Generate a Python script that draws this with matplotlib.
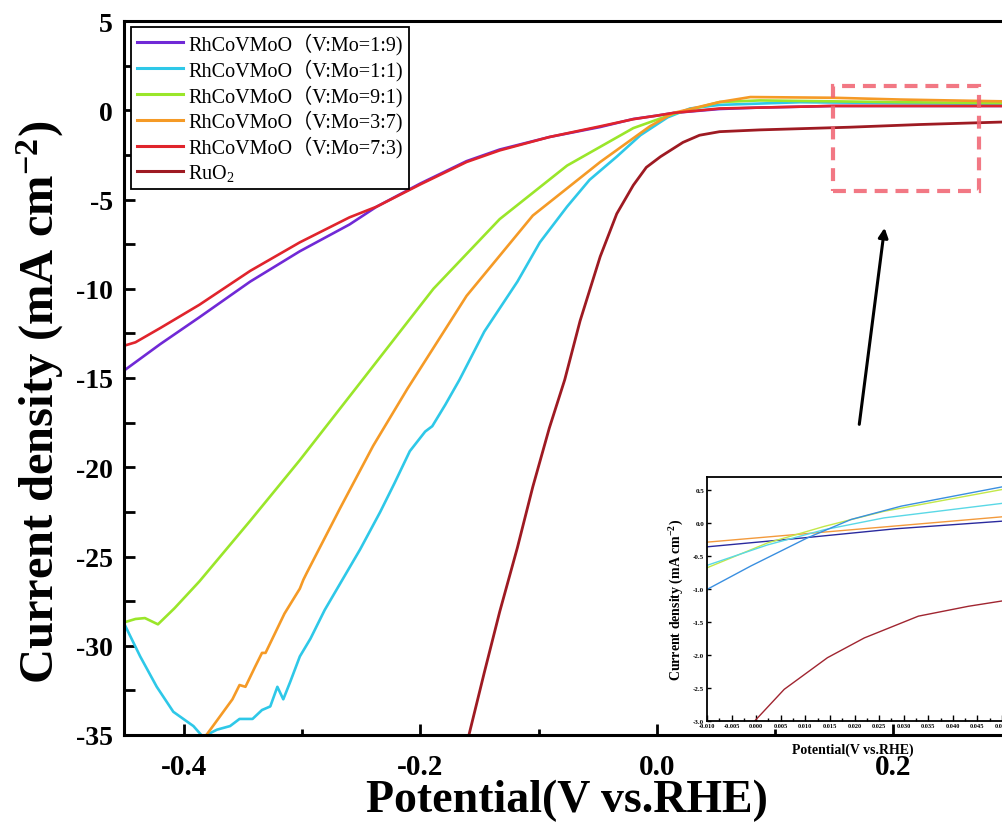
import matplotlib
matplotlib.use("Agg")
import matplotlib.pyplot as plt
from matplotlib.font_manager import FontProperties
from matplotlib.patches import Rectangle
from matplotlib.ticker import MultipleLocator, FixedLocator, FormatStrFormatter

plt.rcParams['font.family'] = ['Liberation Serif', 'Noto Sans CJK SC', 'DejaVu Sans']
plt.rcParams['mathtext.fontset'] = 'custom'
plt.rcParams['mathtext.rm'] = 'Liberation Serif'
plt.rcParams['mathtext.it'] = 'Liberation Serif:italic'
plt.rcParams['mathtext.bf'] = 'Liberation Serif:bold'
plt.rcParams['axes.unicode_minus'] = False

# ---------------- main data ----------------
labels = ["RhCoVMoO\uff08V:Mo=1:9)", "RhCoVMoO\uff08V:Mo=1:1)", "RhCoVMoO\uff08V:Mo=9:1)",
          "RhCoVMoO\uff08V:Mo=3:7)", "RhCoVMoO\uff08V:Mo=7:3)", "RuO$_2$"]
colors = ['#7029D6', '#2EC8E8', '#9AE62A', '#F59A26', '#E0242C', '#9E1A22']

x_19 = [-0.451, -0.420, -0.387, -0.344, -0.302, -0.260, -0.237, -0.200, -0.161, -0.133,
        -0.091, -0.048, -0.020, 0.000, 0.014, 0.053, 0.087, 0.149, 0.292]
y_19 = [-14.6, -13.1, -11.6, -9.6, -7.9, -6.4, -5.4, -4.1, -2.85, -2.2,
        -1.5, -0.94, -0.49, -0.3, -0.15, 0.07, 0.15, 0.24, 0.24]

x_11 = [-0.451, -0.437, -0.423, -0.409, -0.392, -0.384, -0.372, -0.361, -0.353, -0.342,
        -0.334, -0.327, -0.321, -0.316, -0.310, -0.302, -0.293, -0.281, -0.266, -0.251,
        -0.234, -0.222, -0.209, -0.196, -0.190, -0.179, -0.167, -0.146, -0.118, -0.099,
        -0.076, -0.057, -0.034, -0.014, 0.009, 0.028, 0.053, 0.121, 0.206, 0.292]
y_11 = [-28.7, -30.6, -32.3, -33.7, -34.5, -35.1, -34.7, -34.5, -34.1, -34.1,
        -33.6, -33.4, -32.3, -33.0, -32.0, -30.6, -29.6, -28.0, -26.3, -24.6,
        -22.5, -20.9, -19.1, -18.0, -17.7, -16.5, -15.1, -12.4, -9.6, -7.4,
        -5.4, -3.9, -2.6, -1.4, -0.4, 0.1, 0.3, 0.45, 0.4, 0.35]

x_91 = [-0.451, -0.441, -0.433, -0.422, -0.408, -0.387, -0.344, -0.302, -0.249, -0.189,
        -0.133, -0.076, -0.020, 0.014, 0.053, 0.087, 0.149, 0.206, 0.292]
y_91 = [-28.7, -28.5, -28.45, -28.8, -27.9, -26.4, -23.0, -19.6, -15.1, -10.0,
        -6.1, -3.1, -1.0, -0.2, 0.46, 0.55, 0.5, 0.45, 0.4]

x_37 = [-0.381, -0.359, -0.353, -0.348, -0.340, -0.334, -0.331, -0.323, -0.315, -0.302,
        -0.299, -0.296, -0.268, -0.240, -0.211, -0.161, -0.105, -0.048, -0.006, 0.014,
        0.053, 0.079, 0.149, 0.206, 0.248, 0.292]
y_37 = [-35.0, -33.0, -32.2, -32.3, -31.2, -30.4, -30.4, -29.3, -28.2, -26.8,
        -26.3, -25.9, -22.3, -18.8, -15.6, -10.4, -5.9, -2.9, -0.9, -0.15,
        0.46, 0.74, 0.7, 0.6, 0.55, 0.5]

x_73 = [-0.451, -0.441, -0.420, -0.387, -0.344, -0.302, -0.260, -0.237, -0.200, -0.161,
        -0.133, -0.091, -0.048, -0.020, 0.000, 0.014, 0.053, 0.149, 0.292]
y_73 = [-13.2, -13.0, -12.2, -10.9, -9.0, -7.4, -6.0, -5.4, -4.15, -2.9,
        -2.25, -1.5, -0.9, -0.5, -0.3, -0.15, 0.1, 0.24, 0.24]

x_ru = [-0.159, -0.146, -0.133, -0.118, -0.105, -0.091, -0.078, -0.065, -0.048, -0.034,
        -0.020, -0.009, 0.003, 0.022, 0.036, 0.053, 0.087, 0.163, 0.222, 0.292]
y_ru = [-35.0, -31.5, -28.1, -24.5, -21.1, -17.8, -15.1, -11.8, -8.2, -5.8,
        -4.2, -3.2, -2.6, -1.8, -1.4, -1.2, -1.1, -0.95, -0.8, -0.66]

xs = [x_19, x_11, x_91, x_37, x_73, x_ru]
ys = [y_19, y_11, y_91, y_37, y_73, y_ru]

x_ticks = [-0.4, -0.2, 0.0, 0.2]
x_ticklabels = ["-0.4", "-0.2", "0.0", "0.2"]
y_ticks = [5, 0, -5, -10, -15, -20, -25, -30, -35]

# ---------------- inset data ----------------
in_colors = ['#F39A3C', '#2A2A9E', '#C2E84A', '#5AD8E6', '#3A8FE0', '#A02530']
in_x_or = [-0.010, 0.020, 0.050]
in_y_or = [-0.288, -0.096, 0.096]
in_x_nv = [-0.010, 0.0098, 0.0282, 0.050]
in_y_nv = [-0.359, -0.222, -0.086, 0.030]
in_x_yg = [-0.010, 0.0023, 0.0138, 0.026, 0.050]
in_y_yg = [-0.677, -0.30, -0.05, 0.18, 0.51]
in_x_cy = [-0.010, 0.0023, 0.0138, 0.026, 0.050]
in_y_cy = [-0.64, -0.33, -0.10, 0.08, 0.30]
in_x_bl = [-0.010, -0.0011, 0.0105, 0.0193, 0.0295, 0.050]
in_y_bl = [-1.005, -0.65, -0.22, 0.056, 0.258, 0.55]
in_x_ru = [-0.0003, 0.0057, 0.0145, 0.022, 0.033, 0.0432, 0.050]
in_y_ru = [-3.0, -2.52, -2.04, -1.74, -1.41, -1.26, -1.18]
in_xs = [in_x_or, in_x_nv, in_x_yg, in_x_cy, in_x_bl, in_x_ru]
in_ys = [in_y_or, in_y_nv, in_y_yg, in_y_cy, in_y_bl, in_y_ru]

# ---------------- figure ----------------
W, H = 1002, 837
fig = plt.figure(figsize=(W / 100, H / 100), dpi=100)
L, R, T, B = 124, 1002, 22, 736
ax = fig.add_axes([L / W, 1 - B / H, (R - L) / W, (B - T) / H])

for x, y, c, lab in zip(xs, ys, colors, labels):
    ax.plot(x, y, color=c, lw=1.9 if lab != "RuO$_2$" else 2.0, label=lab,
            solid_joinstyle='round')

ax.set_xlim(-0.4507, 0.2918)
ax.set_ylim(-35, 5)
ax.xaxis.set_major_locator(FixedLocator(x_ticks))
ax.set_xticklabels(x_ticklabels)
ax.xaxis.set_minor_locator(MultipleLocator(0.1))
ax.yaxis.set_major_locator(FixedLocator(y_ticks))
ax.yaxis.set_minor_locator(MultipleLocator(2.5))

for s in ['left', 'bottom', 'top']:
    ax.spines[s].set_linewidth(2.2)
ax.spines['right'].set_visible(False)
ax.tick_params(axis='both', which='both', direction='in', width=2, top=False, right=False)
ax.tick_params(axis='x', which='major', length=8, pad=13, labelsize=21)
ax.tick_params(axis='x', which='minor', length=4)
ax.tick_params(axis='y', which='major', length=8, pad=8, labelsize=20)
ax.tick_params(axis='y', which='minor', length=8)
for t in ax.get_xticklabels() + ax.get_yticklabels():
    t.set_fontweight('bold')

fig.text(40 / W, 1 - 402 / H, "Current density (mA cm$^{\\mathbf{-2}}$)", rotation=90,
         ha='center', va='center', fontsize=35, fontweight='bold')
fig.text(567 / W, 1 - 801 / H, "Potential(V vs.RHE)", ha='center', va='center',
         fontsize=33, fontweight='bold')

leg_prop = FontProperties(family=['Liberation Serif', 'Noto Sans CJK SC'], size=14.5)
leg = ax.legend(loc='upper left', bbox_to_anchor=(0.008, 0.992), borderaxespad=0,
                prop=leg_prop, frameon=True, fancybox=False, framealpha=1,
                edgecolor='black', handlelength=2.3, handletextpad=0.25,
                labelspacing=0.2, borderpad=0.3)
leg.get_frame().set_linewidth(1.3)
for ln in leg.get_lines():
    ln.set_linewidth(2.2)

# dashed highlight box and arrow
ax.add_patch(Rectangle((0.1488, -4.52), 0.1235, 5.88, fill=False, edgecolor='#F0606E',
                       alpha=0.85, lw=3, linestyle=(0, (3.1, 1.9)), zorder=5))
ax.annotate('', xy=(0.1928, -6.43), xytext=(0.1708, -17.75),
            arrowprops=dict(arrowstyle='-|>', color='black', lw=2.2, mutation_scale=14))

# ---------------- inset ----------------
iL, iR, iT, iB = 707, 1002, 478, 722
ins = fig.add_axes([iL / W, 1 - iB / H, (iR - iL) / W, (iB - iT) / H])
for x, y, c in zip(in_xs, in_ys, in_colors):
    ins.plot(x, y, color=c, lw=1.0)
ins.set_xlim(-0.010, 0.050)
ins.set_ylim(-3.0, 0.7)
ins.xaxis.set_major_locator(MultipleLocator(0.005))
ins.xaxis.set_major_formatter(FormatStrFormatter('%.3f'))
ins.xaxis.set_minor_locator(MultipleLocator(0.0025))
ins.yaxis.set_major_locator(MultipleLocator(0.5))
ins.yaxis.set_major_formatter(FormatStrFormatter('%.1f'))
ins.spines['right'].set_visible(False)
for s in ['left', 'bottom', 'top']:
    ins.spines[s].set_linewidth(1.3)
ins.tick_params(axis='both', which='both', direction='in', width=1, top=False, right=False)
ins.tick_params(axis='x', which='major', length=4, pad=1.5, labelsize=4.6)
ins.tick_params(axis='x', which='minor', length=2)
ins.tick_params(axis='y', which='major', length=3, pad=2, labelsize=5)
for t in ins.get_xticklabels() + ins.get_yticklabels():
    t.set_fontweight('bold')
fig.text(677 / W, 1 - 600 / H, "Current density (mA cm$^{\\mathbf{-2}}$)", rotation=90,
         ha='center', va='center', fontsize=10, fontweight='bold')
fig.text(853 / W, 1 - 750 / H, "Potential(V vs.RHE)", ha='center', va='center',
         fontsize=10, fontweight='bold')

fig.savefig("out.png", dpi=100)
